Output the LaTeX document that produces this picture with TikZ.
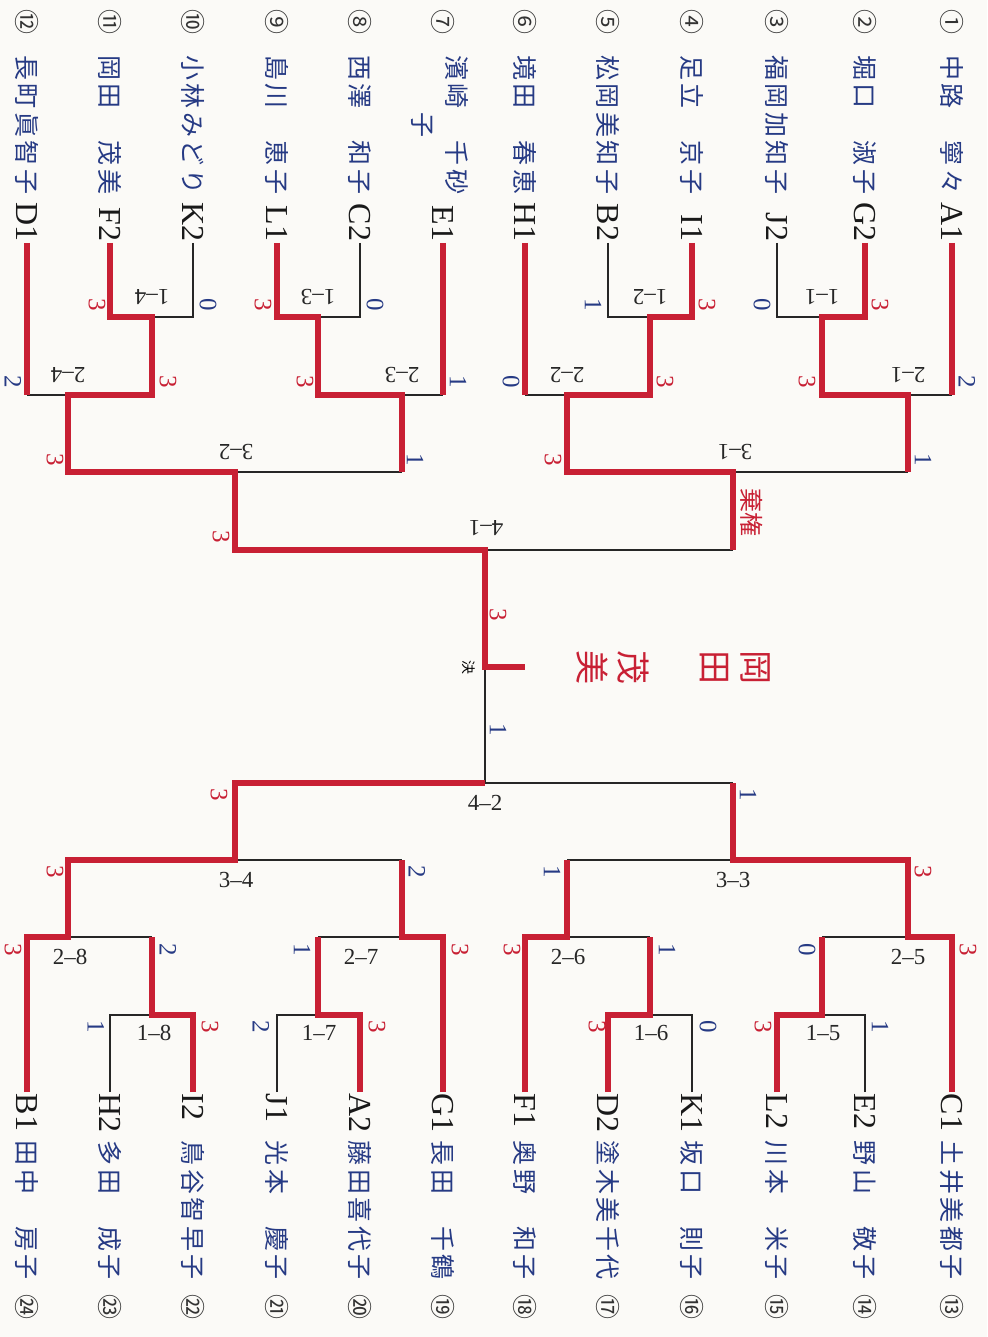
\documentclass[tikz,border=0pt]{standalone}
\usepackage{fontspec}
\setmainfont{Liberation Serif}
\newfontfamily\jpfont{Noto Sans CJK JP}
\newfontfamily\namefont[LetterSpace=14]{Noto Sans CJK JP}
\definecolor{kenred}{RGB}{200,32,52}
\definecolor{kenblue}{RGB}{38,58,132}
\definecolor{paper}{RGB}{251,250,247}

\begin{document}
\begin{tikzpicture}[x=1pt, y=-1pt,
    redline/.style={draw=kenred, line width=6pt},
    blackline/.style={draw=black!85, line width=1.1pt},
    num/.style={font=\jpfont\fontsize{25}{27}\selectfont, text=black!80, rotate=-90, inner sep=0pt},
    player/.style={font=\namefont\fontsize{25}{34}\selectfont, text=kenblue, rotate=-90, inner sep=0pt, align=center},
    entry/.style={font=\fontsize{32}{34}\selectfont, text=black!90, rotate=-90, inner sep=1.5pt},
    score/.style={font=\fontsize{25}{27}\selectfont, rotate=-90, inner sep=0pt},
    win/.style={score, text=kenred},
    lose/.style={score, text=kenblue},
    forfeit/.style={font=\jpfont\fontsize{24}{26}\selectfont, text=kenred, rotate=-90, inner sep=0pt},
    match/.style={font=\fontsize{23}{25}\selectfont, text=black!85, inner sep=0pt},
    champ/.style={font=\jpfont\fontsize{34}{41}\selectfont, text=kenred, rotate=-90, inner sep=0pt, align=center},
    ]

    \useasboundingbox (0,0) rectangle (987,1337);
    \fill[paper] (0,0) rectangle (987,1337);

    % upper side (1-12)
    \node[num] (no1) at (952,22) {①};
    \node[player] (nm1) at (952,125) {中路　寧々};
    \node[entry, anchor=east] (A1) at (952,243) {A1};
    \node[num] (no2) at (865,22) {②};
    \node[player] (nm2) at (865,125) {堀口　淑子};
    \node[entry, anchor=east] (G2) at (865,243) {G2};
    \node[num] (no3) at (777,22) {③};
    \node[player] (nm3) at (777,125) {福岡加知子};
    \node[entry, anchor=east] (J2) at (777,243) {J2};
    \node[num] (no4) at (692,22) {④};
    \node[player] (nm4) at (692,125) {足立　京子};
    \node[entry, anchor=east] (I1) at (692,243) {I1};
    \node[num] (no5) at (608,22) {⑤};
    \node[player] (nm5) at (608,125) {松岡美知子};
    \node[entry, anchor=east] (B2) at (608,243) {B2};
    \node[num] (no6) at (525,22) {⑥};
    \node[player] (nm6) at (525,125) {境田　春恵};
    \node[entry, anchor=east] (H1) at (525,243) {H1};
    \node[num] (no7) at (443,22) {⑦};
    \node[player] (nm7) at (440,125) {濱崎　千砂\\子};
    \node[entry, anchor=east] (E1) at (443,243) {E1};
    \node[num] (no8) at (360,22) {⑧};
    \node[player] (nm8) at (360,125) {西澤　和子};
    \node[entry, anchor=east] (C2) at (360,243) {C2};
    \node[num] (no9) at (277,22) {⑨};
    \node[player] (nm9) at (277,125) {島川　恵子};
    \node[entry, anchor=east] (L1) at (277,243) {L1};
    \node[num] (no10) at (193,22) {⑩};
    \node[player] (nm10) at (193,125) {小林みどり};
    \node[entry, anchor=east] (K2) at (193,243) {K2};
    \node[num] (no11) at (110,22) {⑪};
    \node[player] (nm11) at (110,125) {岡田　茂美};
    \node[entry, anchor=east] (F2) at (110,243) {F2};
    \node[num] (no12) at (27,22) {⑫};
    \node[player] (nm12) at (27,125) {長町眞智子};
    \node[entry, anchor=east] (D1) at (27,243) {D1};

    % lower side (13-24)
    \node[entry, anchor=west] (C1) at (952,1092) {C1};
    \node[player] (nm13) at (952,1210) {土井美都子};
    \node[num] (no13) at (952,1307) {⑬};
    \node[entry, anchor=west] (E2) at (865,1092) {E2};
    \node[player] (nm14) at (865,1210) {野山　敬子};
    \node[num] (no14) at (865,1307) {⑭};
    \node[entry, anchor=west] (L2) at (777,1092) {L2};
    \node[player] (nm15) at (777,1210) {川本　米子};
    \node[num] (no15) at (777,1307) {⑮};
    \node[entry, anchor=west] (K1) at (692,1092) {K1};
    \node[player] (nm16) at (692,1210) {坂口　則子};
    \node[num] (no16) at (692,1307) {⑯};
    \node[entry, anchor=west] (D2) at (608,1092) {D2};
    \node[player] (nm17) at (608,1210) {塗木美千代};
    \node[num] (no17) at (608,1307) {⑰};
    \node[entry, anchor=west] (F1) at (525,1092) {F1};
    \node[player] (nm18) at (525,1210) {奥野　和子};
    \node[num] (no18) at (525,1307) {⑱};
    \node[entry, anchor=west] (G1) at (443,1092) {G1};
    \node[player] (nm19) at (443,1210) {長田　千鶴};
    \node[num] (no19) at (443,1307) {⑲};
    \node[entry, anchor=west] (A2) at (360,1092) {A2};
    \node[player] (nm20) at (360,1210) {藤田喜代子};
    \node[num] (no20) at (360,1307) {⑳};
    \node[entry, anchor=west] (J1) at (277,1092) {J1};
    \node[player] (nm21) at (277,1210) {光本　慶子};
    \node[num] (no21) at (277,1307) {㉑};
    \node[entry, anchor=west] (I2) at (193,1092) {I2};
    \node[player] (nm22) at (193,1210) {鳥谷智早子};
    \node[num] (no22) at (193,1307) {㉒};
    \node[entry, anchor=west] (H2) at (110,1092) {H2};
    \node[player] (nm23) at (110,1210) {多田　成子};
    \node[num] (no23) at (110,1307) {㉓};
    \node[entry, anchor=west] (B1) at (27,1092) {B1};
    \node[player] (nm24) at (27,1210) {田中　房子};
    \node[num] (no24) at (27,1307) {㉔};

    % junctions
    \coordinate (m11) at (822,317);
    \coordinate (m12) at (650,317);
    \coordinate (m13) at (318,317);
    \coordinate (m14) at (152,317);
    \coordinate (m21) at (908,395);
    \coordinate (m22) at (567,395);
    \coordinate (m23) at (402,395);
    \coordinate (m24) at (68,395);
    \coordinate (m31) at (733,472);
    \coordinate (m32) at (235,472);
    \coordinate (m41) at (485,550);
    \coordinate (fin) at (485,667);
    \coordinate (tick) at (525,667);
    \coordinate (m42) at (485,783);
    \coordinate (m33) at (733,860);
    \coordinate (m34) at (235,860);
    \coordinate (m25) at (908,937);
    \coordinate (m26) at (567,937);
    \coordinate (m27) at (402,937);
    \coordinate (m28) at (68,937);
    \coordinate (m15) at (822,1015);
    \coordinate (m16) at (650,1015);
    \coordinate (m17) at (318,1015);
    \coordinate (m18) at (152,1015);

    % losing lines
    \draw[blackline] (J2.east) |- (m11);
    \draw[blackline] (B2.east) |- (m12);
    \draw[blackline] (C2.east) |- (m13);
    \draw[blackline] (K2.east) |- (m14);
    \draw[blackline] (m21) -- (A1.east |- m21);
    \draw[blackline] (m22) -- (H1.east |- m22);
    \draw[blackline] (m23) -- (E1.east |- m23);
    \draw[blackline] (m24) -- (D1.east |- m24);
    \draw[blackline] (m31) -- (m21 |- m31);
    \draw[blackline] (m32) -- (m23 |- m32);
    \draw[blackline] (m41) -- (m31 |- m41);
    \draw[blackline] (fin) -- (m42);
    \draw[blackline] (m42) -- (m33 |- m42);
    \draw[blackline] (m33) -- (m26 |- m33);
    \draw[blackline] (m34) -- (m27 |- m34);
    \draw[blackline] (m25) -- (m15 |- m25);
    \draw[blackline] (m26) -- (m16 |- m26);
    \draw[blackline] (m27) -- (m17 |- m27);
    \draw[blackline] (m28) -- (m18 |- m28);
    \draw[blackline] (E2.west) |- (m15);
    \draw[blackline] (K1.west) |- (m16);
    \draw[blackline] (J1.west) |- (m17);
    \draw[blackline] (H2.west) |- (m18);

    % winning lines
    \draw[redline] (A1.east) -- (A1.east |- m21);
    \draw[redline] (G2.east) |- (m11) |- (m21) -- (m21 |- m31);
    \draw[redline] (I1.east) |- (m12) |- (m22) |- (m31) -- (m31 |- m41);
    \draw[redline] (H1.east) -- (H1.east |- m22);
    \draw[redline] (E1.east) -- (E1.east |- m23);
    \draw[redline] (L1.east) |- (m13) |- (m23) -- (m23 |- m32);
    \draw[redline] (F2.east) |- (m14) |- (m24) |- (m32) |- (m41) -- (fin) -- (tick);
    \draw[redline] (D1.east) -- (D1.east |- m24);
    \draw[redline] (C1.west) |- (m25) |- (m33) -- (m33 |- m42);
    \draw[redline] (L2.west) |- (m15) -- (m15 |- m25);
    \draw[redline] (D2.west) |- (m16) -- (m16 |- m26);
    \draw[redline] (F1.west) |- (m26) -- (m26 |- m33);
    \draw[redline] (G1.west) |- (m27) -- (m27 |- m34);
    \draw[redline] (A2.west) |- (m17) -- (m17 |- m27);
    \draw[redline] (I2.west) |- (m18) -- (m18 |- m28);
    \draw[redline] (B1.west) |- (m28) |- (m34) |- (m42);

    % match numbers
    \node[match, rotate=180] (l11) at (822,297) {1--1};
    \node[match, rotate=180] (l12) at (650,297) {1--2};
    \node[match, rotate=180] (l13) at (318,297) {1--3};
    \node[match, rotate=180] (l14) at (152,297) {1--4};
    \node[match, rotate=180] (l21) at (908,375) {2--1};
    \node[match, rotate=180] (l22) at (567,375) {2--2};
    \node[match, rotate=180] (l23) at (402,375) {2--3};
    \node[match, rotate=180] (l24) at (68,375) {2--4};
    \node[match, rotate=180] (l31) at (735,452) {3--1};
    \node[match, rotate=180] (l32) at (236,452) {3--2};
    \node[match, rotate=180] (l41) at (486,528) {4--1};
    \node[match] (l42) at (485,803) {4--2};
    \node[match] (l33) at (733,880) {3--3};
    \node[match] (l34) at (236,880) {3--4};
    \node[match] (l25) at (908,957) {2--5};
    \node[match] (l26) at (568,957) {2--6};
    \node[match] (l27) at (361,957) {2--7};
    \node[match] (l28) at (70,957) {2--8};
    \node[match] (l15) at (823,1033) {1--5};
    \node[match] (l16) at (651,1033) {1--6};
    \node[match] (l17) at (319,1033) {1--7};
    \node[match] (l18) at (154,1033) {1--8};

    % scores
    \node[lose] (s11a) at (762,305) {0};
    \node[win] (s11b) at (880,305) {3};
    \node[win] (s21a) at (807,382) {3};
    \node[lose] (s21b) at (967,382) {2};
    \node[lose] (s12a) at (593,305) {1};
    \node[win] (s12b) at (707,305) {3};
    \node[lose] (s22a) at (511,382) {0};
    \node[win] (s22b) at (665,382) {3};
    \node[win] (s31a) at (553,460) {3};
    \node[lose] (s31b) at (923,460) {1};
    \node[win] (s13a) at (263,305) {3};
    \node[lose] (s13b) at (375,305) {0};
    \node[win] (s23a) at (305,382) {3};
    \node[lose] (s23b) at (458,382) {1};
    \node[win] (s14a) at (97,305) {3};
    \node[lose] (s14b) at (208,305) {0};
    \node[lose] (s24a) at (13,382) {2};
    \node[win] (s24b) at (168,382) {3};
    \node[win] (s32a) at (55,460) {3};
    \node[lose] (s32b) at (415,460) {1};
    \node[win] (s41a) at (221,537) {3};
    \node[forfeit] (s41b) at (752,512) {棄権};
    \node[win] (sfa) at (498,615) {3};
    \node[lose] (sfb) at (498,730) {1};
    \node[win] (s42a) at (219,795) {3};
    \node[lose] (s42b) at (748,795) {1};
    \node[lose] (s33a) at (552,872) {1};
    \node[win] (s33b) at (923,872) {3};
    \node[win] (s34a) at (55,872) {3};
    \node[lose] (s34b) at (417,872) {2};
    \node[lose] (s25a) at (807,950) {0};
    \node[win] (s25b) at (968,950) {3};
    \node[win] (s26a) at (512,950) {3};
    \node[lose] (s26b) at (667,950) {1};
    \node[lose] (s27a) at (302,950) {1};
    \node[win] (s27b) at (460,950) {3};
    \node[win] (s28a) at (13,950) {3};
    \node[lose] (s28b) at (168,950) {2};
    \node[win] (s15a) at (763,1027) {3};
    \node[lose] (s15b) at (880,1027) {1};
    \node[win] (s16a) at (597,1027) {3};
    \node[lose] (s16b) at (708,1027) {0};
    \node[lose] (s17a) at (261,1027) {2};
    \node[win] (s17b) at (377,1027) {3};
    \node[lose] (s18a) at (96,1027) {1};
    \node[win] (s18b) at (210,1027) {3};

    % final
    \node[font=\jpfont\fontsize{14}{16}\selectfont, rotate=-90, inner sep=0pt] (kessho) at (469,667) {決};
    \node[champ] (champion) at (673,667) {岡\\田\\[41pt]茂\\美};

\end{tikzpicture}
\end{document}
